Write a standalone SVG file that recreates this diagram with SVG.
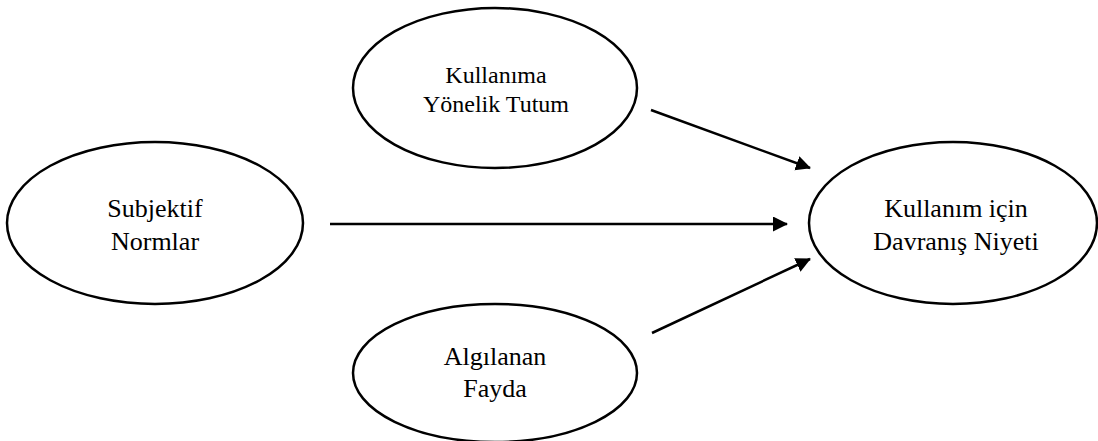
<svg xmlns="http://www.w3.org/2000/svg" width="1098" height="441" viewBox="0 0 1098 441">
<style>
.n{fill:#fff;stroke:#000;stroke-width:2.5}
.t{font-family:"Liberation Serif","Times New Roman",serif;font-size:26px;fill:#000;text-anchor:middle}
.s{font-size:24px}
.c line{stroke:#000;stroke-width:2.5}
</style>
<defs>
<marker id="ah" markerUnits="userSpaceOnUse" markerWidth="15" markerHeight="16" refX="14" refY="7.5" orient="auto">
<path d="M0,0 L15,7.5 L0,15 z" fill="#000"/>
</marker>
</defs>
<rect width="1098" height="441" fill="#fff"/>
<g id="tutum">
<ellipse class="n" cx="495" cy="88" rx="142" ry="80"/>
<text class="t s" x="496" y="83">Kullanıma</text>
<text class="t s" x="496" y="112">Yönelik Tutum</text>
</g>
<g id="subjektif">
<ellipse class="n" cx="155" cy="223" rx="148" ry="81"/>
<text class="t" x="155" y="217">Subjektif</text>
<text class="t" x="155" y="250">Normlar</text>
</g>
<g id="fayda">
<ellipse class="n" cx="495" cy="373" rx="142" ry="69"/>
<text class="t" x="495" y="365">Algılanan</text>
<text class="t" x="495" y="397">Fayda</text>
</g>
<g id="niyet">
<ellipse class="n" cx="953" cy="223" rx="144" ry="81"/>
<text class="t" x="956" y="217">Kullanım için</text>
<text class="t" x="956" y="250">Davranış Niyeti</text>
</g>
<g id="connectors" class="c">
<line x1="651" y1="110" x2="810" y2="168" marker-end="url(#ah)"/>
<line x1="330" y1="224" x2="787" y2="224" marker-end="url(#ah)"/>
<line x1="652" y1="333" x2="810" y2="259" marker-end="url(#ah)"/>
</g>
</svg>
